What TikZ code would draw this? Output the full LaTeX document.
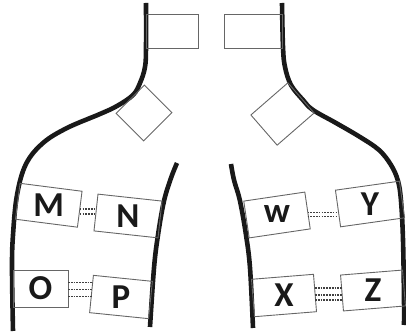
\documentclass[tikz,border=0pt]{standalone}
\usepackage{fontspec}
\newfontfamily\labfont{Carlito}[UprightFont={* Bold}]
\newcommand{\lettersize}{\fontsize{35}{35}\selectfont}
\begin{document}
\begin{tikzpicture}[x=1pt,y=-1pt,
  wall/.style={line width=4.6pt,color=black!90},
  boxshape/.style={draw=black!60,line width=0.9pt,inner sep=0pt,outer sep=0pt,rectangle},
  lettertext/.style={text=black!90,inner sep=0pt},
  link/.style={draw=black!75,line width=1.8pt,dash pattern=on 1.7pt off 1.1pt}]
\useasboundingbox (0,0) rectangle (406,336);
% walls
\draw[wall] plot[smooth,tension=0.6] coordinates {(146,3) (146,47) (145,67) (140,83) (133,95) (117,106) (100,114) (67,128) (43,143) (26,164) (17,195) (13,235) (12,268) (13,331)};
\draw[wall] plot[smooth,tension=0.6] coordinates {(177,163) (171,178) (164,201) (158,235) (154,268) (150,327)};
\draw[wall] plot[smooth,tension=0.6] coordinates {(282,3) (283,47) (285,67) (291,85) (303,100) (313,110) (336,123) (360,137) (379,150) (391,165) (398,181) (401,201) (403,240) (404,300) (404,325)};
\draw[wall] plot[smooth,tension=0.6] coordinates {(231,164) (234,180) (240,201) (246,235) (250,268) (253,328)};
% top boxes
\node[boxshape,minimum width=52pt,minimum height=34pt] (tl) at (172,31) {};
\node[boxshape,minimum width=58pt,minimum height=34pt] (tr) at (253,31) {};
\node[boxshape,minimum width=40pt,minimum height=39pt,rotate=45] (dl) at (144,113) {};
\node[boxshape,minimum width=49pt,minimum height=40pt,rotate=41] (dr) at (282.5,114) {};
% lower boxes
\node[boxshape,minimum width=62.5pt,minimum height=36.2pt,rotate=-7.3] (m) at (48.75,205.25) {};
\node[boxshape,minimum width=64.4pt,minimum height=37pt,rotate=-6.2] (n) at (128,216) {};
\node[boxshape,minimum width=55pt,minimum height=37pt] (o) at (40.5,288.5) {};
\node[boxshape,minimum width=59.3pt,minimum height=37.5pt,rotate=-5.8] (p) at (121,297) {};
\node[boxshape,minimum width=61.7pt,minimum height=37.2pt,rotate=8.4] (w) at (277,215) {};
\node[boxshape,minimum width=64.6pt,minimum height=37pt,rotate=8] (y) at (370,204) {};
\node[boxshape,minimum width=62.2pt,minimum height=37.5pt,rotate=4.6] (x) at (284,295.5) {};
\node[boxshape,minimum width=62.2pt,minimum height=36pt,rotate=4.6] (z) at (373,290.5) {};
% letters
\node[lettertext] (mt) at (m.center) {\labfont\lettersize M};
\node[lettertext] (nt) at (n.center) {\labfont\lettersize N};
\node[lettertext] (ot) at (o.center) {\labfont\lettersize O};
\node[lettertext] (pt) at (p.center) {\labfont\lettersize P};
\node[lettertext,anchor=base] (wt) at ([yshift=-8pt]w.center) {\labfont\lettersize w};
\node[lettertext] (yt) at (y.center) {\labfont\lettersize Y};
\node[lettertext] (xt) at (x.center) {\labfont\lettersize X};
\node[lettertext] (zt) at (z.center) {\labfont\lettersize Z};
% links
\draw[link] ([yshift=0pt]m.east) -- ([yshift=0pt]m.east -| n.west);
\draw[link] ([yshift=-5pt]m.east) -- ([yshift=-5pt]m.east -| n.west);
\draw[link] ([yshift=6pt]o.east) -- ([yshift=6pt]o.east -| p.west);
\draw[link] ([yshift=-1pt]o.east) -- ([yshift=-1pt]o.east -| p.west);
\draw[link] ([yshift=-8pt]o.east) -- ([yshift=-8pt]o.east -| p.west);
\draw[link] ([yshift=-2pt]w.east) -- ([yshift=-2pt]w.east -| y.west);
\draw[link] ([yshift=-6pt]w.east) -- ([yshift=-6pt]w.east -| y.west);
\draw[link] ([yshift=5pt]x.east) -- ([yshift=5pt]x.east -| z.west);
\draw[link] ([yshift=-2pt]x.east) -- ([yshift=-2pt]x.east -| z.west);
\draw[link] ([yshift=-7pt]x.east) -- ([yshift=-7pt]x.east -| z.west);
\end{tikzpicture}
\end{document}
